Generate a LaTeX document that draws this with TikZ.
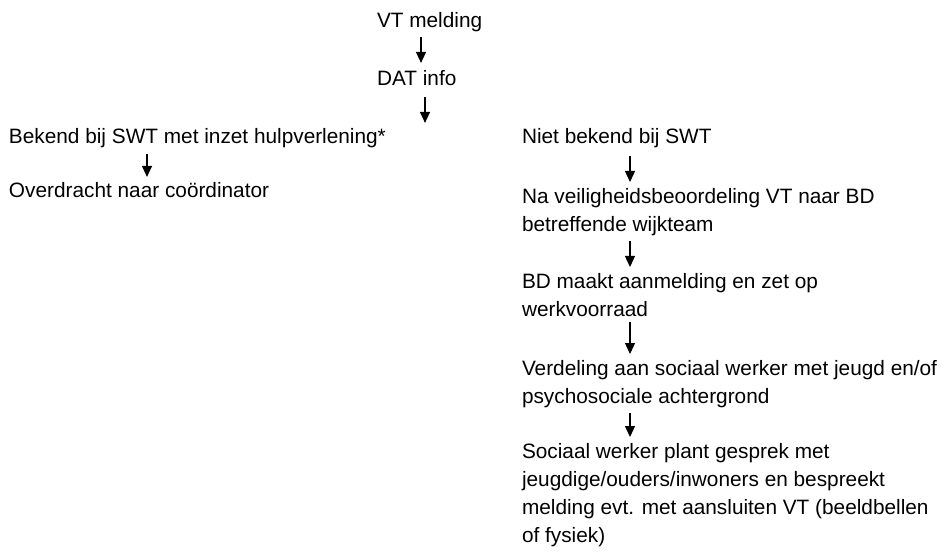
\documentclass[tikz,border=0pt]{standalone}
\usepackage{fontspec}
\setmainfont{Liberation Sans}
\usepackage{tikz}
\usetikzlibrary{arrows.meta}

\tikzset{
	stap/.style={inner sep=0pt, outer sep=0pt, font=\fontsize{20.8}{28}\selectfont, align=left},
	pijl/.style={line width=1.3pt, -{Triangle[length=11pt,width=10pt]}, shorten <=6pt, shorten >=6pt}
}

\begin{document}
\begin{tikzpicture}[x=1pt,y=-1pt]
			\useasboundingbox (0,0) rectangle (942,553);

			\coordinate (pa) at (421,0);
			\coordinate (pb) at (425,0);
			\coordinate (pl) at (147,0);
			\coordinate (pr) at (630,0);

			\node [stap, anchor=base west] (vt) at (377,28) {VT melding};
			\node [stap, anchor=base west] (dat) at (377,86) {DAT info};

			\node [stap, anchor=base west] (bekend) at (9,144) {Bekend bij SWT met inzet hulpverlening*};
			\node [stap, anchor=base west] (overdracht) at (9,198) {Overdracht naar coördinator};

			\node [stap, anchor=base west] (niet) at (522,144) {Niet bekend bij SWT};
			\node [stap, anchor=north west] (na) at (522,188) {Na veiligheidsbeoordeling VT naar BD\\betreffende wijkteam};
			\node [stap, anchor=north west] (bd) at (522,273) {BD maakt aanmelding en zet op\\werkvoorraad};
			\node [stap, anchor=north west] (verdeling) at (522,360) {Verdeling aan sociaal werker met jeugd en/of\\psychosociale achtergrond};
			\node [stap, anchor=north west] (gesprek) at (522,443) {Sociaal werker plant gesprek met\\jeugdige/ouders/inwoners en bespreekt\\melding evt. met aansluiten VT (beeldbellen\\of fysiek)};

			\draw [pijl, shorten <=5pt, shorten >=8pt] (vt.south -| pa) -- (dat.north -| pa);
			\draw [pijl, shorten <=11pt] (dat.south -| pb) -- (bekend.north -| pb);
			\draw [pijl] (bekend.south -| pl) -- (overdracht.north -| pl);
			\draw [pijl, shorten <=8pt] (niet.south -| pr) -- (na.north -| pr);
			\draw [pijl] (na.south -| pr) -- (bd.north -| pr);
			\draw [pijl] (bd.south -| pr) -- (verdeling.north -| pr);
			\draw [pijl] (verdeling.south -| pr) -- (gesprek.north -| pr);

		\end{tikzpicture}
\end{document}
